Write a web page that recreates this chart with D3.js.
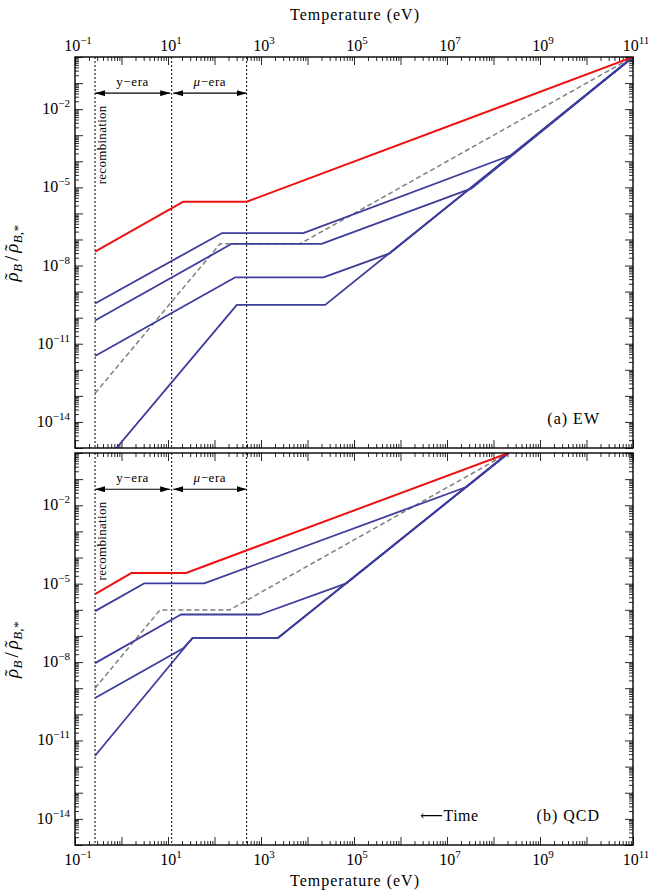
<!DOCTYPE html>
<html>
<head>
<meta charset="utf-8">
<script src="https://cdn.jsdelivr.net/npm/d3@7"></script>
<style>
  body { margin: 0; background: #fff; }
  text { font-family: "Liberation Serif", "DejaVu Serif", serif; fill: #000; }
</style>
</head>
<body>
<svg id="chart" width="648" height="890"></svg>
<script>
// ---- data (T in eV, rho_B / rho_B,*) ----
var xTickExps = [-1, 1, 3, 5, 7, 9, 11];
var yTickExps = [-2, -5, -8, -11, -14];
var eraBounds = [0.27, 12, 490];          // recombination, y/mu boundary, end of mu-era
var eraLabels = ["y\u2212era", "\u03bc\u2212era"];

// (a) EW
var ewRed  = [[0.27, 3.4e-8], [21.4, 2.8e-6], [490, 2.8e-6], [1e11, 1]];
var ewBlue1 = [[0.27, 3.5e-10], [143, 1.74e-7], [8130, 1.74e-7], [2.45e8, 1.74e-4], [1e11, 1]];
var ewBlue2 = [[0.27, 7.8e-11], [234, 6.8e-8], [2.0e4, 6.8e-8], [3.4e7, 9.1e-6], [1e11, 1]];
var ewBlue3 = [[0.27, 3.4e-12], [275, 3.5e-9], [2.2e4, 3.5e-9], [5.9e5, 2.95e-8], [1e11, 1]];
var ewBlue4 = [[0.27, 1.05e-16], [302, 3.1e-10], [2.4e4, 3.1e-10], [1e11, 1]];
var ewGrey = [[0.27, 1.26e-13], [132, 6.8e-8], [6900, 6.8e-8], [1e11, 1]];

// (b) QCD
var qcdRed  = [[0.27, 4.0e-6], [1.65, 2.57e-5], [24.4, 2.57e-5], [2.1e8, 1]];
var qcdBlue1 = [[0.27, 8.9e-7], [3.05, 1.02e-5], [60, 1.02e-5], [2.6e7, 0.05], [2.1e8, 1]];
var qcdBlue2 = [[0.27, 9.1e-9], [19, 6.6e-7], [955, 6.6e-7], [6.8e4, 1.02e-5], [2.1e8, 1]];
var qcdBlue3 = [[0.27, 4.2e-10], [21.4, 3.4e-8], [34, 8.5e-8], [2340, 8.5e-8], [2.1e8, 1]];
var qcdBlue4 = [[0.27, 2.6e-12], [34, 8.5e-8], [2340, 8.5e-8], [2.1e8, 1]];
var qcdGrey = [[0.27, 1.0e-9], [6.7, 9.8e-7], [209, 9.8e-7], [2.1e8, 1]];

var panels = [
  {id: "ew", label: "(a)\u00a0EW", top: 57, bottom: 448, red: ewRed,
   blue: [ewBlue1, ewBlue2, ewBlue3, ewBlue4], grey: ewGrey, time: false},
  {id: "qcd", label: "(b)\u00a0QCD", top: 453, bottom: 845, red: qcdRed,
   blue: [qcdBlue1, qcdBlue2, qcdBlue3, qcdBlue4], grey: qcdGrey, time: true}
];

var svg = d3.select("#chart");
var left = 75, right = 633;

var x = d3.scaleLog().domain([0.1, 1e11]).range([left, right]);

var xMajor = d3.range(-1, 12).map(function(e) { return Math.pow(10, e); });
var xMinor = [];
d3.range(-1, 11).forEach(function(e) {
  for (var k = 2; k <= 9; k++) xMinor.push(k * Math.pow(10, e));
});
var yMajor = d3.range(-15, 1).map(function(e) { return Math.pow(10, e); });
var yMinor = [];
d3.range(-15, 0).forEach(function(e) {
  for (var k = 2; k <= 9; k++) yMinor.push(k * Math.pow(10, e));
});

var defs = svg.append("defs");
defs.append("marker")
    .attr("id", "arrow")
    .attr("viewBox", "0 0 10 6")
    .attr("refX", 10).attr("refY", 3)
    .attr("markerWidth", 10).attr("markerHeight", 6)
    .attr("markerUnits", "userSpaceOnUse")
    .attr("orient", "auto-start-reverse")
  .append("path")
    .attr("d", "M0,0L10,3L0,6Z")
    .attr("fill", "#000");

function powLabel(sel, exp, size) {
  sel.append("tspan").text("10");
  sel.append("tspan")
      .attr("dy", -7)
      .attr("font-size", size)
      .text(String(exp).replace("-", "\u2212"));
}

// rho with a tilde over it, then a subscript (leaves the baseline shifted by +4)
function rhoTilde(t, sub, dx) {
  t.append("tspan").attr("font-style", "italic").attr("dx", dx).text("\u03c1");
  t.append("tspan").attr("dx", -7.5).text("\u02dc");
  t.append("tspan").attr("font-style", "italic").attr("font-size", 13)
      .attr("dx", 1.5).attr("dy", 4).text(sub);
}

function yTitle(g, cx, cy) {
  var t = g.append("text")
      .attr("transform", "translate(" + cx + "," + cy + ") rotate(-90)")
      .attr("text-anchor", "middle")
      .attr("font-size", 19);
  rhoTilde(t, "B", 0);
  t.append("tspan").attr("dy", -4).attr("dx", 3).text("/");
  rhoTilde(t, "B,*", 3);
}

panels.forEach(function(p, pi) {
  var y = d3.scaleLog().domain([1e-15, 1]).range([p.bottom, p.top]);
  var g = svg.append("g").attr("class", "panel-" + p.id);

  // clip for the curves
  defs.append("clipPath").attr("id", "clip-" + p.id)
    .append("rect")
      .attr("x", left).attr("y", p.top)
      .attr("width", right - left).attr("height", p.bottom - p.top);

  // ticks on all four sides, pointing inward
  function addAxis(axis, tx, ty) {
    g.append("g")
        .attr("transform", "translate(" + tx + "," + ty + ")")
        .call(axis)
        .call(function(a) { a.select(".domain").remove(); a.selectAll("text").remove(); })
        .selectAll("line").attr("stroke", "#111").attr("stroke-width", 0.9);
  }
  addAxis(d3.axisTop(x).tickValues(xMajor).tickSize(-8), 0, p.top);
  addAxis(d3.axisTop(x).tickValues(xMinor).tickSize(-4), 0, p.top);
  addAxis(d3.axisBottom(x).tickValues(xMajor).tickSize(-8), 0, p.bottom);
  addAxis(d3.axisBottom(x).tickValues(xMinor).tickSize(-4), 0, p.bottom);
  addAxis(d3.axisLeft(y).tickValues(yMajor).tickSize(-8), left, 0);
  addAxis(d3.axisLeft(y).tickValues(yMinor).tickSize(-4), left, 0);
  addAxis(d3.axisRight(y).tickValues(yMajor).tickSize(-8), right, 0);
  addAxis(d3.axisRight(y).tickValues(yMinor).tickSize(-4), right, 0);

  // y tick labels
  yTickExps.forEach(function(e) {
    var t = g.append("text")
        .attr("x", left - 5)
        .attr("y", y(Math.pow(10, e)) + 5)
        .attr("text-anchor", "end")
        .attr("font-size", 16);
    powLabel(t, e, 11);
  });

  // x tick labels: above the top panel, below the bottom panel
  xTickExps.forEach(function(e) {
    var t = g.append("text")
        .attr("x", x(Math.pow(10, e)) + 3)
        .attr("y", pi === 0 ? p.top - 6 : p.bottom + 20)
        .attr("text-anchor", "middle")
        .attr("font-size", 16);
    powLabel(t, e, 11);
  });

  // era boundaries
  eraBounds.forEach(function(T) {
    g.append("line")
        .attr("x1", x(T)).attr("x2", x(T))
        .attr("y1", p.top).attr("y2", p.bottom)
        .attr("stroke", "#000").attr("stroke-width", 1)
        .attr("stroke-dasharray", "2,2");
  });

  // era arrows
  var ay = y(0.041);
  eraLabels.forEach(function(lab, i) {
    var x0 = x(eraBounds[i]) + (i === 0 ? 0 : 1.5), x1 = x(eraBounds[i + 1]) - (i === 0 ? 1.5 : 0);
    g.append("line")
        .attr("x1", x0).attr("x2", x1)
        .attr("y1", ay).attr("y2", ay)
        .attr("stroke", "#000").attr("stroke-width", 1.1)
        .attr("marker-start", "url(#arrow)")
        .attr("marker-end", "url(#arrow)");
    var t = g.append("text")
        .attr("x", (x0 + x1) / 2).attr("y", ay - 7)
        .attr("text-anchor", "middle")
        .attr("font-size", 13)
        .attr("letter-spacing", 0.6);
    if (i === 0) {
      t.text(lab);
    } else {
      t.append("tspan").attr("font-style", "italic").text(lab.charAt(0));
      t.append("tspan").text(lab.slice(1));
    }
  });

  g.append("text")
      .attr("transform", "translate(" + (x(eraBounds[0]) + 11) + "," + y(0.014) + ") rotate(-90)")
      .attr("text-anchor", "end")
      .attr("font-size", 13)
      .attr("letter-spacing", 0.3)
      .text("recombination");

  // curves
  var line = d3.line()
      .x(function(d) { return x(d[0]); })
      .y(function(d) { return y(d[1]); });
  var curves = g.append("g").attr("clip-path", "url(#clip-" + p.id + ")");
  curves.append("path")
      .attr("d", line(p.grey))
      .attr("fill", "none").attr("stroke", "#7f7f7f")
      .attr("stroke-width", 1.5).attr("stroke-dasharray", "5,3");
  p.blue.forEach(function(b) {
    curves.append("path")
        .attr("d", line(b))
        .attr("fill", "none").attr("stroke", "#3d3d9c")
        .attr("stroke-width", 1.8).attr("stroke-linejoin", "round");
  });
  curves.append("path")
      .attr("d", line(p.red))
      .attr("fill", "none").attr("stroke", "#ee1111")
      .attr("stroke-width", 2).attr("stroke-linejoin", "round");

  // frame
  g.append("rect")
      .attr("x", left).attr("y", p.top)
      .attr("width", right - left).attr("height", p.bottom - p.top)
      .attr("fill", "none").attr("stroke", "#000").attr("stroke-width", 1.4);

  // panel label
  g.append("text")
      .attr("x", 600).attr("y", p.bottom - 24)
      .attr("text-anchor", "end")
      .attr("font-size", 16)
      .attr("letter-spacing", 1)
      .text(p.label);
  if (p.time) {
    g.append("text")
        .attr("x", 420).attr("y", p.bottom - 24)
        .attr("font-size", 16)
        .attr("letter-spacing", 0.5)
        .text("\u27f5Time");
  }

  yTitle(g, 18, (p.top + p.bottom) / 2 + 1);
});

// axis titles
svg.append("text")
    .attr("x", 355).attr("y", 20)
    .attr("text-anchor", "middle")
    .attr("font-size", 16)
    .attr("letter-spacing", 1)
    .text("Temperature (eV)");
svg.append("text")
    .attr("x", 355).attr("y", 886)
    .attr("text-anchor", "middle")
    .attr("font-size", 16)
    .attr("letter-spacing", 1)
    .text("Temperature (eV)");
</script>
</body>
</html>
